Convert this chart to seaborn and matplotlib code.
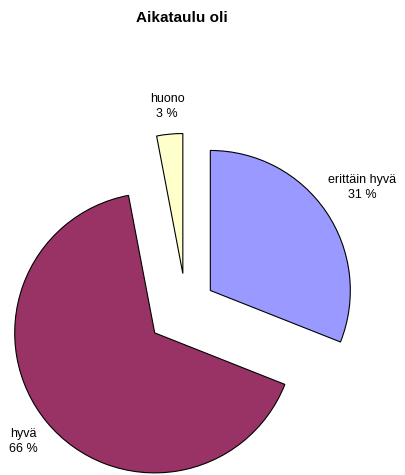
import matplotlib
matplotlib.use("Agg")
import matplotlib.pyplot as plt
import numpy as np
import seaborn as sns

# Data
categories = ["erittäin hyvä", "hyvä", "huono"]
shares = [31, 66, 3]
slice_colors = ["#9999FF", "#993366", "#FFFFCC"]

sns.set_theme(style="white")
plt.rcParams["font.family"] = ["Liberation Sans", "DejaVu Sans"]
plt.rcParams["text.color"] = "black"

fig = plt.figure(figsize=(4.06, 4.75), dpi=100)
ax = fig.add_axes([0, 0, 1, 1])

wedges, _ = ax.pie(shares, colors=sns.color_palette(slice_colors),
                   startangle=90, counterclock=False,
                   explode=[0.21, 0.29, 0.24],
                   wedgeprops=dict(edgecolor="black", linewidth=0.8))

# labels outside each wedge, centred like Excel
label_dist = [1.31, 1.22, 1.2]
for w, name, v, d in zip(wedges, categories, shares, label_dist):
    mid = np.deg2rad((w.theta1 + w.theta2) / 2)
    cx, cy = w.center
    ax.text(cx + d * np.cos(mid), cy + d * np.sin(mid), f"{name}\n{v} %",
            ha="center", va="center", fontsize=9, linespacing=1.3,
            color="black")

# 1 data unit = 140 px, pie centre at (186, 307) px
ax.set_xlim(-186 / 140, (406 - 186) / 140)
ax.set_ylim(-168 / 140, (475 - 168) / 140)
ax.axis("off")

fig.text(182 / 406, 1 - 18 / 475, "Aikataulu oli", ha="center", va="center",
         fontsize=11, fontweight="bold", color="black")

plt.savefig("out.png", dpi=100)
plt.close()
